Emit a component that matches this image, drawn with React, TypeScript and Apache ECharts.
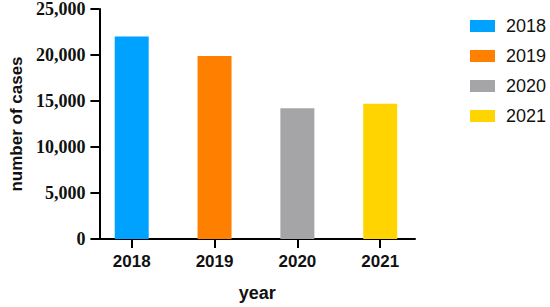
import React, { useEffect, useRef } from "react";
import * as echarts from "echarts";

const years = ["2018", "2019", "2020", "2021"];
const cases = [22000, 19900, 14200, 14700];
const colors = ["#00A2FF", "#FF8000", "#A5A5A8", "#FFD400"];

export default function App() {
  const ref = useRef<HTMLDivElement>(null);
  useEffect(() => {
    const chart = echarts.init(ref.current!, null, { renderer: "svg" });
    const series = years.map((y, i) => ({
      name: y,
      type: "bar",
      data: [[i, cases[i]]],
      barWidth: 34,
      barGap: "-100%",
      itemStyle: { color: colors[i] },
    }));
    chart.setOption({
      animation: false,
      grid: { left: 91, right: 135, top: 7.5, bottom: 67 },
      legend: {
        orient: "vertical",
        left: 465,
        top: 12,
        itemWidth: 25,
        itemHeight: 12,
        itemGap: 12,
        icon: "rect",
        data: years,
        textStyle: {
          fontFamily: "Liberation Sans, Arial, sans-serif",
          fontSize: 18,
          color: "#111",
          padding: [0, 0, 0, 6],
        },
      },
      xAxis: {
        type: "value",
        min: -0.39,
        max: 3.42,
        splitLine: { show: false },
        axisLine: { show: true, onZero: false, lineStyle: { color: "#000", width: 2 } },
        axisTick: { show: true, customValues: [0, 1, 2, 3], length: 9, lineStyle: { color: "#000", width: 2 } },
        axisLabel: {
          customValues: [0, 1, 2, 3],
          formatter: (v: number) => years[Math.round(v)],
          fontFamily: "Liberation Sans, Arial, sans-serif",
          fontWeight: "bold",
          fontSize: 17,
          color: "#111",
          margin: 14,
        },
        name: "year",
        nameLocation: "middle",
        nameGap: 45,
        nameTextStyle: {
          fontFamily: "Liberation Sans, Arial, sans-serif",
          fontWeight: "bold",
          fontSize: 18,
          color: "#111",
        },
      },
      yAxis: {
        type: "value",
        min: 0,
        max: 25000,
        interval: 5000,
        splitLine: { show: false },
        axisLine: { show: true, onZero: false, lineStyle: { color: "#000", width: 2 } },
        axisTick: { show: true, length: 9, lineStyle: { color: "#000", width: 2 } },
        axisLabel: {
          formatter: (v: number) => v.toLocaleString("en-US"),
          fontFamily: "Liberation Serif, Times New Roman, serif",
          fontWeight: "bold",
          fontSize: 18,
          color: "#111",
          margin: 14,
        },
        name: "number of cases",
        nameLocation: "middle",
        nameGap: 64,
        nameTextStyle: {
          fontFamily: "Liberation Sans, Arial, sans-serif",
          fontWeight: "bold",
          fontSize: 17,
          color: "#111",
        },
      },
      series,
    });
    return () => chart.dispose();
  }, []);
  return (
    <div
      ref={ref}
      style={{ position: "absolute", left: 0, top: 0, width: 550, height: 307 }}
    />
  );
}
